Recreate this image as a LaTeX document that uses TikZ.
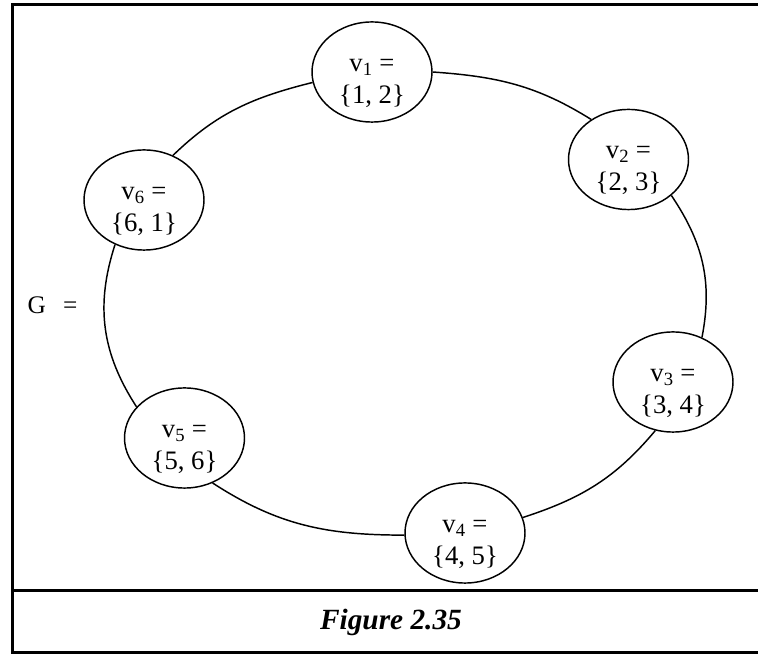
\documentclass[tikz,border=0pt]{standalone}
\usepackage{fontspec}
\setmainfont{Liberation Serif}
\usetikzlibrary{shapes.geometric}
\newcommand{\vlab}[2]{\rule{0pt}{26pt}v\textsubscript{#1} =\\\{#2\}}
\begin{document}
\begin{tikzpicture}[x=0.75pt,y=-0.75pt,
  vert/.style={draw, ellipse, line width=1.1pt, inner sep=0pt,
    minimum width=90pt, minimum height=72pt, align=center,
    font=\fontsize{20}{24}\selectfont},
  edge/.style={line width=1.1pt},
  frame/.style={line width=2.25pt}]
\useasboundingbox (0,0) rectangle (758,655);
% frame
\draw[frame] (758,5) -- (12,5) -- (12,653) -- (758,653);
\draw[frame] (12,591) -- (758,591);
% vertices
\node[vert] (v1) at (372,72)    {\vlab{1}{1, 2}};
\node[vert] (v2) at (628.5,159.5) {\vlab{2}{2, 3}};
\node[vert] (v3) at (673,382)   {\vlab{3}{3, 4}};
\node[vert] (v4) at (465,533)   {\vlab{4}{4, 5}};
\node[vert] (v5) at (184.5,438) {\vlab{5}{5, 6}};
\node[vert] (v6) at (144,200)   {\vlab{6}{6, 1}};
% edges (arcs of one large ellipse)
\draw[edge] (v1.0)   to[out=-4,  in=148] (v2.133);
\draw[edge] (v2.-40) to[out=-56, in=79]  (v3.57);
\draw[edge] (v3.250) to[out=230, in=18]  (v4.15);
\draw[edge] (v4.182) to[out=180, in=-33] (v5.-58);
\draw[edge] (v5.147) to[out=123, in=252] (v6.237);
\draw[edge] (v6.57)  to[out=44,  in=194] (v1.190);
% labels
\node[font=\fontsize{19}{22}\selectfont] (G) at (52.5,305) {G\hspace{13pt}=};
\node[anchor=base, font=\fontsize{22}{26}\selectfont\bfseries\itshape] (cap) at (391,630) {Figure 2.35};
\end{tikzpicture}
\end{document}
